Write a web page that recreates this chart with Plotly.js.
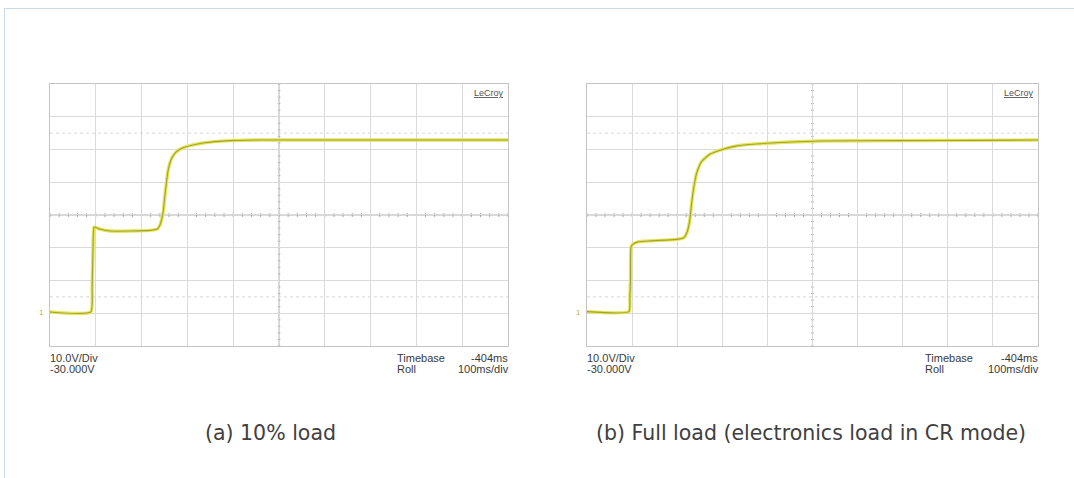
<!DOCTYPE html>
<html>
<head>
<meta charset="utf-8">
<script src="https://cdn.plot.ly/plotly-3.0.1.min.js"></script>
<style>
html,body{margin:0;padding:0;background:#fff;}
#frame{position:absolute;left:4px;top:8px;width:1070px;height:470px;border-top:1px solid #c9dbe8;border-left:1px solid #c9dbe8;box-sizing:border-box;}
#chart{position:absolute;left:0;top:0;width:1074px;height:478px;}
</style>
</head>
<body>
<div id="frame"></div>
<div id="chart"></div>
<script>
// Time in ms (100 ms/div, 10 div), voltage in V (10 V/div, offset -30 V)
const timeA = [0, 89, 92, 94, 96, 100, 109, 131, 175, 218, 234, 240, 247, 251, 258, 266, 275, 290, 312, 334, 360, 393, 458, 600, 800, 1000];
const voltA = [0.4, 0.4, 8, 20, 26.3, 26.2, 25.7, 25.1, 25.1, 25.3, 25.7, 26.9, 30.9, 36.1, 43.7, 47.4, 49.2, 50.5, 51.4, 52.0, 52.4, 52.7, 52.9, 52.9, 52.9, 52.9];
const timeB = [0, 93, 95, 96.5, 97.6, 102, 113, 140, 184, 206, 215, 222, 228, 232, 237, 243, 254, 273, 295, 332, 376, 443, 515, 694, 850, 1000];
const voltB = [0.5, 0.5, 5, 10.2, 20.2, 21.1, 21.8, 22.1, 22.4, 22.7, 23.1, 24.8, 28.5, 33.6, 38.6, 42.7, 46.3, 48.6, 49.8, 51.1, 51.7, 52.2, 52.6, 52.7, 52.8, 52.9];
const captions = ["(a) 10% load", "(b) Full load (electronics load in CR mode)"];
const scaleText = ["10.0V/Div", "-30.000V"];
const timebaseText = ["Timebase", "-404ms", "Roll", "100ms/div"];
const brand = "LeCroy";
const triggerTime = [92, 94];
const trigLevel = 20;

const outer = '#e4e45a', inner = '#a3a32e';
function sig(x, y, xa, ya, c, w){
  return {x:x, y:y, xaxis:xa, yaxis:ya, mode:'lines', line:{color:c, width:w, shape:'spline', smoothing:0.5}, hoverinfo:'skip', showlegend:false};
}
const data = [
  sig(timeA, voltA, 'x', 'y', outer, 3.4),
  sig(timeA, voltA, 'x', 'y', inner, 1.1),
  sig(timeB, voltB, 'x2', 'y2', outer, 3.4),
  sig(timeB, voltB, 'x2', 'y2', inner, 1.1),
  {x:[1009], y:[trigLevel], xaxis:'x', yaxis:'y', mode:'markers', marker:{color:'#9cc63a', size:4}, cliponaxis:false, showlegend:false, hoverinfo:'skip'},
  {x:[1007], y:[trigLevel], xaxis:'x2', yaxis:'y2', mode:'markers', marker:{color:'#9cc63a', size:4}, cliponaxis:false, showlegend:false, hoverinfo:'skip'},
  {x:[triggerTime[0]], y:[-11.3], xaxis:'x', yaxis:'y', mode:'markers', marker:{color:'#9cc63a', size:5, symbol:'triangle-up'}, cliponaxis:false, showlegend:false, hoverinfo:'skip'},
  {x:[triggerTime[1]], y:[-11.3], xaxis:'x2', yaxis:'y2', mode:'markers', marker:{color:'#9cc63a', size:4, symbol:'triangle-up'}, cliponaxis:false, showlegend:false, hoverinfo:'skip'}
];

const gridC = '#dadada';
function xax(dom){
  return {domain:dom, range:[0,1000], dtick:100, tick0:0, showticklabels:false, ticks:'', showgrid:true, gridcolor:gridC, gridwidth:1, zeroline:false, showline:true, linecolor:'#c4c4c4', linewidth:1, mirror:true, fixedrange:true};
}
function yax(anchor){
  return {domain:[0.27615, 0.82427], range:[-10,70], dtick:10, tick0:-10, showticklabels:false, ticks:'', showgrid:true, gridcolor:gridC, gridwidth:1, zeroline:false, showline:true, linecolor:'#c4c4c4', linewidth:1, mirror:true, anchor:anchor, fixedrange:true};
}

const shapes = [];
const ann = [];
[['x','y'],['x2','y2']].forEach(function(p){
  const xr = p[0], yr = p[1];
  shapes.push({type:'line', xref:xr, yref:yr, x0:500, x1:500, y0:-10, y1:70, line:{color:'#b0b0b0', width:1}, layer:'below'});
  shapes.push({type:'line', xref:xr, yref:yr, x0:0, x1:1000, y0:30, y1:30, line:{color:'#b0b0b0', width:1}, layer:'below'});
  [5, 55].forEach(function(v){
    shapes.push({type:'line', xref:xr, yref:yr, x0:0, x1:1000, y0:v, y1:v, line:{color:'#d6d6d6', width:1, dash:'dot'}, layer:'below'});
  });
  for (let t = 0; t <= 1000; t += 20) {
    shapes.push({type:'line', xref:xr, yref:yr, x0:t, x1:t, y0:29.4, y1:30.6, line:{color:'#a5a5a5', width:1}, layer:'below'});
  }
  for (let v = -10; v <= 70; v += 2) {
    shapes.push({type:'line', xref:xr, yref:yr, x0:497, x1:503, y0:v, y1:v, line:{color:'#a5a5a5', width:1}, layer:'below'});
  }
});

const doms = [[0.04655, 0.47300], [0.54655, 0.96648]];
const txtFont = {family:'Liberation Sans, Arial, sans-serif', size:11, color:'#3a3a3a'};
doms.forEach(function(d, i){
  const l = d[0], r = d[1];
  ann.push({xref:'paper', yref:'paper', x:l - 0.0015, y:1-350/478, xanchor:'left', yanchor:'top', text:scaleText[0], showarrow:false, font:txtFont});
  ann.push({xref:'paper', yref:'paper', x:l - 0.0015, y:1-361/478, xanchor:'left', yanchor:'top', text:scaleText[1], showarrow:false, font:txtFont});
  const tl = r - (i===0 ? 113 : 115)/1074;
  ann.push({xref:'paper', yref:'paper', x:tl, y:1-350/478, xanchor:'left', yanchor:'top', text:timebaseText[0], showarrow:false, font:txtFont});
  ann.push({xref:'paper', yref:'paper', x:r + 0.002, y:1-350/478, xanchor:'right', yanchor:'top', text:timebaseText[1], showarrow:false, font:txtFont});
  ann.push({xref:'paper', yref:'paper', x:tl, y:1-361/478, xanchor:'left', yanchor:'top', text:timebaseText[2], showarrow:false, font:txtFont});
  ann.push({xref:'paper', yref:'paper', x:r + 0.003, y:1-361/478, xanchor:'right', yanchor:'top', text:timebaseText[3], showarrow:false, font:txtFont});
  ann.push({xref:'paper', yref:'paper', x:r - 0.002, y:1-86/478, xanchor:'right', yanchor:'top', text:'<u>'+brand+'</u>', showarrow:false, font:{family:'Liberation Sans, Arial, sans-serif', size:9, color:'#555'}});
  ann.push({xref:'paper', yref:'paper', x:l - 0.004, y:1-312/478, xanchor:'right', yanchor:'middle', text:'1', showarrow:false, font:{family:'Liberation Sans, Arial, sans-serif', size:8, color:'#b8b830'}});
});
const capFont = {family:'DejaVu Sans, Open Sans, sans-serif', size:20.5, color:'#404040'};
ann.push({xref:'paper', yref:'paper', x:270/1074, y:1-433/478, xanchor:'center', yanchor:'middle', text:captions[0], showarrow:false, font:capFont});
ann.push({xref:'paper', yref:'paper', x:811/1074, y:1-433/478, xanchor:'center', yanchor:'middle', text:captions[1], showarrow:false, font:capFont});

const layout = {
  width:1074, height:478,
  margin:{l:0, r:0, t:0, b:0},
  paper_bgcolor:'rgba(0,0,0,0)', plot_bgcolor:'#ffffff',
  showlegend:false,
  xaxis:Object.assign(xax(doms[0]), {anchor:'y'}), yaxis:yax('x'),
  xaxis2:Object.assign(xax(doms[1]), {anchor:'y2'}), yaxis2:yax('x2'),
  shapes:shapes, annotations:ann
};
Plotly.newPlot('chart', data, layout, {staticPlot:true, displayModeBar:false});
</script>
</body>
</html>
